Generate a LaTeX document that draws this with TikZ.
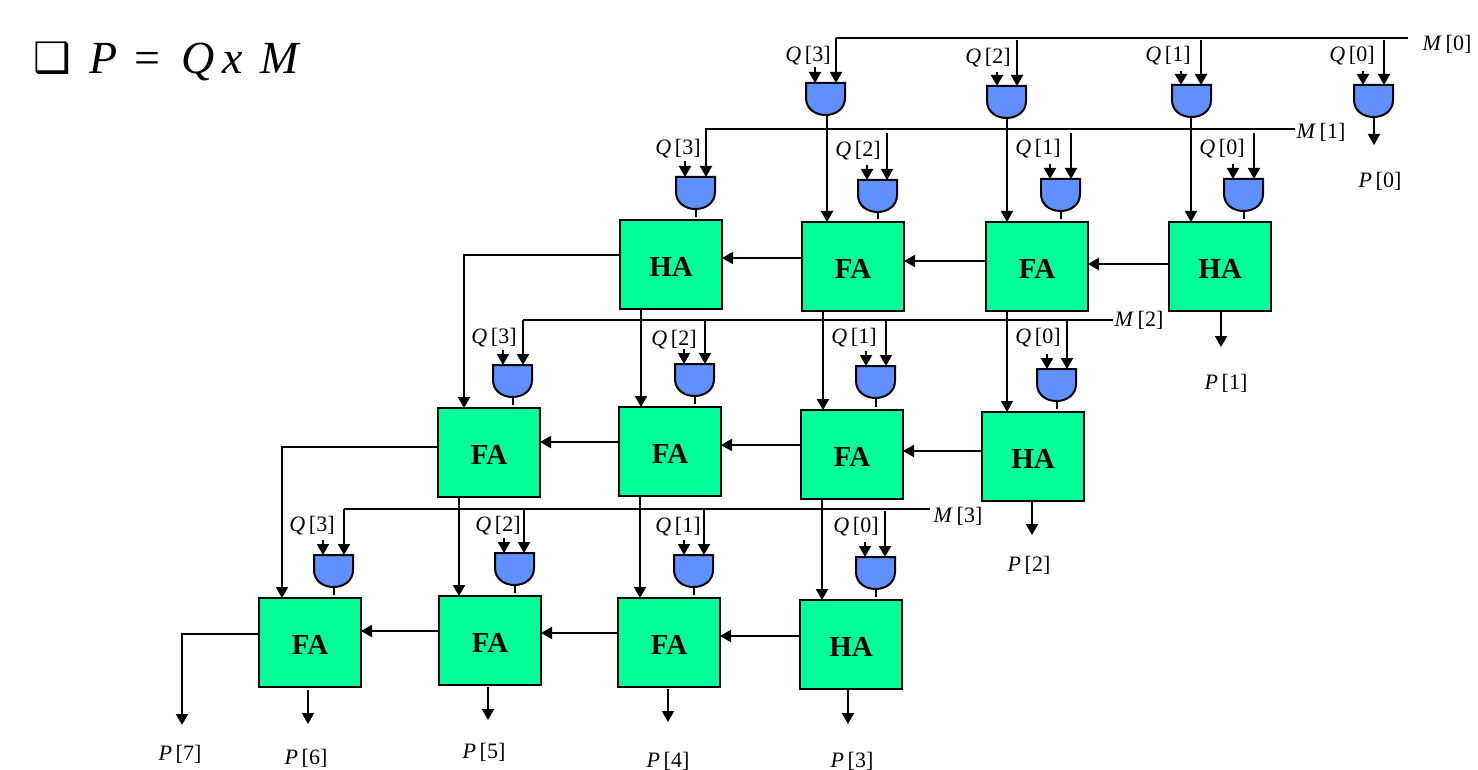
\documentclass[tikz,border=0pt]{standalone}
\usepackage{fontspec}
\setmainfont{Liberation Serif}
\newfontfamily\symfont{DejaVu Sans}
\usetikzlibrary{arrows.meta,calc}
\definecolor{boxgreen}{HTML}{00FF99}
\definecolor{gateblue}{HTML}{6090FF}
\tikzset{
  addbox/.style={draw=black,line width=2pt,fill=boxgreen,minimum width=102pt,minimum height=89pt,inner sep=0pt,outer sep=0pt},
  addtext/.style={inner sep=0pt,font=\fontsize{29}{29}\selectfont\bfseries},
  gatebox/.style={minimum width=39pt,minimum height=32pt,inner sep=0pt,outer sep=0pt},
  gateshape/.style={draw=black,line width=2pt,fill=gateblue},
  wire/.style={line width=2pt,draw=black},
  arr/.style={wire,-{Triangle[length=11pt,width=12pt]}},
  stub/.style={wire,shorten >=3pt},
  lab/.style={inner sep=0pt,font=\fontsize{22}{22}\selectfont},
}
% name, left x, top y, label
\newcommand{\addblock}[4]{\node[addbox] (#1) at (#2+51,#3+44.5) {};
  \node[addtext] at (#2+51,#3+46.5) {#4};}
% name, left x, top y, left input x, right input x, free start of right input (y), start of left input (y)
\newcommand{\gateat}[7]{%
  \node[gatebox] (#1) at (#2+19.5,#3+16) {};
  \path[gateshape] (#1.north west) -- (#1.north east) -- ++(0,15)
    .. controls ++(0,11) and ($(#1.south)+(10,0)$) .. (#1.south)
    .. controls ($(#1.south)+(-10,0)$) and ($(#1.north west)+(0,26)$) .. ($(#1.north west)+(0,15)$) -- cycle;
  \coordinate (#1l) at (#4,#3);
  \coordinate (#1r) at (#5,#3);
  \coordinate (#1lf) at (#4,#7);
  \coordinate (#1rf) at (#5,#6);
  \draw[arr] (#1lf) -- (#1l);
  \draw[arr] (#1rf) -- (#1r);
}
\newcommand{\qp}[2]{\textit{#1}\,[#2]}
\begin{document}
\begin{tikzpicture}[x=1pt,y=-1pt]
\useasboundingbox (0,0) rectangle (1478,770);
% title
\node[inner sep=0pt,font=\fontsize{42}{42}\symfont] (bullet) at (52,58) {❑};
\node[inner sep=0pt,anchor=base west,font=\fontsize{46}{46}\selectfont] (title) at (89,74) {\textit{P}\hspace{17pt}=\hspace{21pt}\textit{Q}\hspace{8pt}\textit{x}\hspace{18pt}\textit{M}};
% blocks
\addblock{r1a}{620}{220}{HA}
\addblock{r1b}{802}{222}{FA}
\addblock{r1c}{986}{222}{FA}
\addblock{r1d}{1169}{222}{HA}
\addblock{r2a}{438}{408}{FA}
\addblock{r2b}{619}{407}{FA}
\addblock{r2c}{801}{410}{FA}
\addblock{r2d}{982}{412}{HA}
\addblock{r3a}{259}{598}{FA}
\addblock{r3b}{439}{596}{FA}
\addblock{r3c}{618}{598}{FA}
\addblock{r3d}{800}{600}{HA}
% M lines
\coordinate (m0s) at (836,38); \coordinate (m0e) at (1408,38);
\coordinate (m1s) at (705,129); \coordinate (m1e) at (1295,129);
\coordinate (m2s) at (523,320); \coordinate (m2e) at (1113,320);
\coordinate (m3s) at (344,509); \coordinate (m3e) at (930,509);
\draw[wire] (m0s) -- (m0e);
\draw[wire] (m1s) -- (m1e);
\draw[wire] (m2s) -- (m2e);
\draw[wire] (m3s) -- (m3e);
% gates row 0
\gateat{g03}{806}{83}{815}{836}{38}{67}
\gateat{g02}{987}{86}{997}{1017}{40}{72}
\gateat{g01}{1172}{85}{1181}{1201}{40}{71}
\gateat{g00}{1354}{85}{1363}{1384}{40}{71}
% gates row 1
\gateat{g13}{676}{177}{685}{706}{129}{161}
\gateat{g12}{858}{180}{867}{887}{133}{165}
\gateat{g11}{1041}{179}{1050}{1071}{133}{164}
\gateat{g10}{1224}{179}{1233}{1254}{133}{164}
% gates row 2
\gateat{g23}{493}{365}{503}{523}{320}{350}
\gateat{g22}{675}{364}{684}{705}{320}{349}
\gateat{g21}{856}{366}{866}{886}{320}{351}
\gateat{g20}{1037}{369}{1047}{1067}{320}{354}
% gates row 3
\gateat{g33}{314}{555}{323}{344}{509}{540}
\gateat{g32}{495}{553}{504}{524}{509}{538}
\gateat{g31}{674}{555}{684}{704}{509}{540}
\gateat{g30}{856}{557}{865}{885}{511}{542}
% gate stubs
\draw[stub] (g13.south) -- (g13.south |- r1a.north);
\draw[stub] (g12.south) -- (g12.south |- r1b.north);
\draw[stub] (g11.south) -- (g11.south |- r1c.north);
\draw[stub] (g10.south) -- (g10.south |- r1d.north);
\draw[stub] (g23.south) -- (g23.south |- r2a.north);
\draw[stub] (g22.south) -- (g22.south |- r2b.north);
\draw[stub] (g21.south) -- (g21.south |- r2c.north);
\draw[stub] (g20.south) -- (g20.south |- r2d.north);
\draw[stub] (g33.south) -- (g33.south |- r3a.north);
\draw[stub] (g32.south) -- (g32.south |- r3b.north);
\draw[stub] (g31.south) -- (g31.south |- r3c.north);
\draw[stub] (g30.south) -- (g30.south |- r3d.north);
% row 0 gate outputs to row 1
\draw[arr] (827,0 |- g03.south) -- (827,0 |- r1b.north);
\draw[arr] (1007,0 |- g02.south) -- (1007,0 |- r1c.north);
\draw[arr] (1191,0 |- g01.south) -- (1191,0 |- r1d.north);
% horizontal carries
\draw[arr] (r1b.west |- 0,258) -- (r1a.east |- 0,258);
\draw[arr] (r1c.west |- 0,261) -- (r1b.east |- 0,261);
\draw[arr] (r1d.west |- 0,264) -- (r1c.east |- 0,264);
\draw[arr] (r2b.west |- 0,442) -- (r2a.east |- 0,442);
\draw[arr] (r2c.west |- 0,445) -- (r2b.east |- 0,445);
\draw[arr] (r2d.west |- 0,451) -- (r2c.east |- 0,451);
\draw[arr] (r3b.west |- 0,631) -- (r3a.east |- 0,631);
\draw[arr] (r3c.west |- 0,633) -- (r3b.east |- 0,633);
\draw[arr] (r3d.west |- 0,636) -- (r3c.east |- 0,636);
% verticals between rows
\draw[arr] (641,0 |- r1a.south) -- (641,0 |- r2b.north);
\draw[arr] (823,0 |- r1b.south) -- (823,0 |- r2c.north);
\draw[arr] (1007,0 |- r1c.south) -- (1007,0 |- r2d.north);
\draw[arr] (459,0 |- r2a.south) -- (459,0 |- r3b.north);
\draw[arr] (640,0 |- r2b.south) -- (640,0 |- r3c.north);
\draw[arr] (822,0 |- r2c.south) -- (822,0 |- r3d.north);
% long carries
\draw[arr] (r1a.west |- 0,255) -- (464,255) -- (464,0 |- r2a.north);
\draw[arr] (r2a.west |- 0,447) -- (282,447) -- (282,0 |- r3a.north);
% labels
\node[lab] (q03) at (808,56) {\qp{Q}{3}};
\node[lab] (q02) at (988,58) {\qp{Q}{2}};
\node[lab] (q01) at (1168,56) {\qp{Q}{1}};
\node[lab] (q00) at (1352,56) {\qp{Q}{0}};
\node[lab] (q13) at (678,149) {\qp{Q}{3}};
\node[lab] (q12) at (858,151) {\qp{Q}{2}};
\node[lab] (q11) at (1038,149) {\qp{Q}{1}};
\node[lab] (q10) at (1222,149) {\qp{Q}{0}};
\node[lab] (q23) at (494,338) {\qp{Q}{3}};
\node[lab] (q22) at (674,340) {\qp{Q}{2}};
\node[lab] (q21) at (854,338) {\qp{Q}{1}};
\node[lab] (q20) at (1038,338) {\qp{Q}{0}};
\node[lab] (q33) at (312,526) {\qp{Q}{3}};
\node[lab] (q32) at (498,526) {\qp{Q}{2}};
\node[lab] (q31) at (678,527) {\qp{Q}{1}};
\node[lab] (q30) at (856,527) {\qp{Q}{0}};
\node[lab] (m0) at (1447,44) {\qp{M}{0}};
\node[lab] (m1) at (1321,132) {\qp{M}{1}};
\node[lab] (m2) at (1139,320) {\qp{M}{2}};
\node[lab] (m3) at (958,516) {\qp{M}{3}};
\node[lab] (p0) at (1380,181) {\qp{P}{0}};
\node[lab] (p1) at (1226,383) {\qp{P}{1}};
\node[lab] (p2) at (1029,565) {\qp{P}{2}};
\node[lab] (p3) at (852,761) {\qp{P}{3}};
\node[lab] (p4) at (668,761) {\qp{P}{4}};
\node[lab] (p5) at (484,752) {\qp{P}{5}};
\node[lab] (p6) at (306,758) {\qp{P}{6}};
\node[lab] (p7) at (180,754) {\qp{P}{7}};
% product outputs
\draw[arr] (1374,0 |- g00.south) -- (1374,145);
\draw[arr] (1221,0 |- r1d.south) -- (1221,347);
\draw[arr] (1032,0 |- r2d.south) -- (1032,535);
\draw[arr] (848,690) -- (848,724);
\draw[arr] (668,689) -- (668,722);
\draw[arr] (488,687) -- (488,720);
\draw[arr] (308,690) -- (308,724);
\draw[arr] (r3a.west |- 0,634) -- (182,634) -- (182,725);
\end{tikzpicture}
\end{document}
